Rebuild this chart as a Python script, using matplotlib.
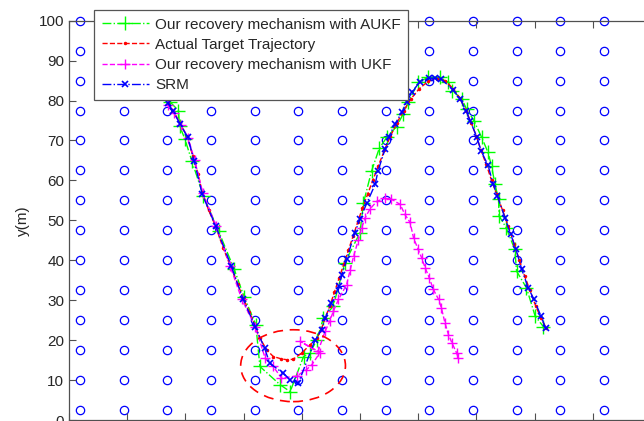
import numpy as np
import matplotlib
matplotlib.use("Agg")
import matplotlib.pyplot as plt
from matplotlib.patches import Ellipse

plt.rcParams['font.family'] = ['Liberation Sans', 'DejaVu Sans']

# anchor grid (blue circles)
grid_x = [1.9, 9.4, 16.9, 24.4, 31.9, 39.4, 46.9, 54.4, 61.9, 69.4, 76.9, 84.4, 91.9]
grid_y = [100, 92.5, 85, 77.5, 70, 62.5, 55, 47.5, 40, 32.5, 25, 17.5, 10, 2.5]

# Our recovery mechanism with AUKF
aukf_x = [17.4, 18.8, 19.0, 19.9, 21.1, 23.1, 25.7, 28.4, 30.1, 32.1, 32.8, 36.3, 38.0,
          40.3, 41.4, 42.6, 43.7, 45.4, 47.4, 50.0, 50.6, 52.0, 53.3, 54.6, 56.3, 57.4,
          58.3, 60.0, 61.7, 63.7, 65.2, 65.8, 67.5, 68.3, 69.6, 70.9, 72.0, 72.6, 73.2,
          73.8, 73.9, 75.1, 76.6, 76.9, 78.6, 80.1, 81.5]
aukf_y = [79.6, 77.5, 73.7, 70.4, 64.9, 56.1, 47.3, 37.7, 30.8, 23.9, 13.4, 8.8, 7.1,
          15.9, 16.8, 20.1, 25.5, 28.5, 39.4, 46.9, 54.4, 62.4, 68.0, 70.8, 73.5, 76.6,
          79.6, 84.6, 85.8, 85.8, 84.6, 82.5, 80.4, 77.9, 74.9, 70.8, 67.0, 63.6, 59.0,
          55.3, 51.1, 48.2, 42.7, 37.3, 33.1, 26.0, 23.4]

# Actual target trajectory
act_x = [17.0, 17.9, 19.0, 20.3, 21.3, 22.2, 22.9, 24.0, 25.2, 26.5, 27.8, 29.0, 30.0,
         31.0, 32.0, 32.8, 34.0, 35.1, 36.5, 37.4, 38.5, 40.0, 41.4, 42.6, 43.3, 44.0,
         44.8, 45.6, 46.4, 47.2, 48.0, 48.8, 49.6, 50.4, 51.3, 52.2, 53.1, 54.2, 55.2,
         56.3, 57.5, 58.8, 60.2, 61.7, 63.2, 64.6, 66.0, 67.2, 68.2, 69.1, 70.0, 70.8,
         71.7, 72.6, 73.5, 74.5, 75.5, 76.5, 77.4, 78.3, 79.2, 80.2, 81.1, 82.0]
act_y = [79.5, 77.5, 74.5, 71.0, 66.0, 61.5, 57.0, 52.5, 48.5, 43.0, 38.3, 34.0, 30.3,
         27.0, 23.5, 20.5, 17.5, 15.9, 15.3, 15.1, 15.2, 16.8, 18.8, 20.5, 22.5, 25.5,
         28.5, 32.0, 35.5, 39.0, 42.5, 46.0, 49.5, 53.0, 56.5, 60.0, 63.5, 67.5, 71.0,
         74.3, 77.5, 80.5, 83.0, 84.8, 85.5, 85.0, 83.0, 80.5, 77.5, 74.5, 71.0, 67.5,
         64.0, 60.0, 56.5, 52.5, 48.5, 44.0, 40.0, 36.0, 32.5, 28.5, 25.5, 23.0]

# Our recovery mechanism with UKF
ukf_x = [17.0, 18.0, 19.2, 20.5, 21.6, 23.0, 25.3, 27.7, 29.7, 32.0, 33.7, 35.1, 36.5,
         39.1, 40.8, 41.7, 43.1, 39.7, 42.8, 44.0, 44.8, 45.4, 46.3, 47.7, 48.3, 48.9,
         49.7, 50.3, 50.9, 51.7, 52.9, 54.3, 55.4, 56.9, 57.7, 58.6, 59.2, 60.0, 60.6,
         61.2, 61.9, 62.6, 63.5, 64.0, 64.6, 65.2, 65.8, 66.6, 66.9]
ukf_y = [79.0, 77.0, 74.0, 70.5, 65.0, 56.8, 48.5, 38.5, 30.2, 23.4, 15.5, 13.4, 10.5,
         11.0, 12.6, 13.8, 16.8, 19.7, 17.2, 22.2, 24.7, 27.2, 30.2, 33.9, 37.5, 41.0,
         45.0, 48.2, 50.7, 52.8, 54.8, 55.5, 55.3, 54.0, 51.5, 49.5, 45.6, 42.7, 40.6,
         38.1, 35.6, 32.7, 30.2, 28.0, 24.3, 21.4, 19.3, 16.8, 15.5]

# SRM
srm_x = [17.0, 17.9, 19.1, 20.4, 21.5, 22.9, 25.2, 27.9, 29.9, 32.0, 33.6, 34.5, 36.8,
         38.0, 39.4, 42.3, 43.4, 44.0, 45.1, 46.4, 46.9, 47.7, 49.1, 50.0, 51.2, 52.6,
         53.1, 54.3, 54.9, 56.0, 57.2, 58.0, 58.9, 60.3, 61.9, 62.9, 64.0, 66.0, 67.2,
         68.2, 68.9, 70.1, 70.8, 72.0, 72.9, 73.6, 74.9, 75.9, 76.8, 77.8, 78.9, 79.9,
         81.1, 81.9]
srm_y = [79.3, 77.3, 74.1, 70.8, 64.9, 56.5, 48.6, 38.5, 30.3, 23.4, 18.0, 14.2, 11.7,
         10.1, 9.2, 20.1, 22.6, 25.5, 29.3, 33.5, 36.4, 40.2, 46.9, 50.3, 54.4, 59.0,
         62.4, 67.8, 70.8, 74.1, 77.1, 79.6, 82.1, 84.7, 85.6, 85.6, 85.3, 82.7, 80.4,
         77.5, 75.0, 70.8, 67.4, 63.8, 59.0, 56.1, 50.7, 46.5, 42.7, 37.7, 33.1, 30.2,
         26.0, 23.0]

# highlighted region
circle_center = (38.5, 13.6)
circle_radius = 9.0

labels = ['Our recovery mechanism with AUKF', 'Actual Target Trajectory',
          'Our recovery mechanism with UKF', 'SRM']
xticks = [0, 10, 20, 30, 40, 50, 60, 70, 80, 90, 100]
yticks = [0, 10, 20, 30, 40, 50, 60, 70, 80, 90, 100]

W, H = 644, 421
fig = plt.figure(figsize=(W / 100, H / 100), dpi=100)
ax = fig.add_axes([69 / W, 1 / H, 582 / W, 399.3 / H])
txt = '#262626'
axc = '#505050'

gx, gy = np.meshgrid(grid_x, grid_y)
ax.plot(gx.ravel(), gy.ravel(), 'o', mfc='none', mec='#0000ff', ms=6, mew=0.9,
        linestyle='none', clip_on=False, zorder=1)

l1, = ax.plot(aukf_x, aukf_y, color='#00ff00', linestyle='-.', lw=1.0,
              marker='+', ms=10, mew=1.0, label=labels[0], zorder=2)
l2, = ax.plot(act_x, act_y, color='#ff0000', linestyle='--', lw=1.0,
              marker='.', ms=3, label=labels[1], zorder=3)
l3, = ax.plot(ukf_x, ukf_y, color='#ff00ff', linestyle='--', lw=1.0,
              marker='+', ms=7, mew=1.0, label=labels[2], zorder=4)
l4, = ax.plot(srm_x, srm_y, color='#0000ff', linestyle='-.', lw=1.0,
              marker='x', ms=5, mew=1.2, label=labels[3], zorder=5)

ell = Ellipse(circle_center, 2 * circle_radius, 2 * circle_radius, fill=False,
              edgecolor='#ff0000', linestyle=(0, (6, 4)), lw=1.2, zorder=6)
ax.add_patch(ell)

ax.set_xlim(0, 100)
ax.set_ylim(0, 100)
ax.set_xticks(xticks)
ax.set_yticks(yticks)
ax.tick_params(direction='in', length=5, width=0.8, colors=axc, labelcolor=txt,
               labelsize=11, top=True, right=True)
for s in ax.spines.values():
    s.set_color(axc)
    s.set_linewidth(0.9)
ax.set_ylabel('y(m)', fontsize=11, color=txt, labelpad=6)
ax.set_xlabel('x(m)', fontsize=11, color=txt)

leg = fig.legend(handles=[l1, l2, l3, l4], loc='upper left',
                 bbox_to_anchor=(94 / W, 1 - 10 / H), bbox_transform=fig.transFigure,
                 borderaxespad=0, fontsize=11, frameon=True, fancybox=False,
                 framealpha=1, edgecolor='#555555', handlelength=3.1,
                 handletextpad=0.4, labelspacing=0.4, borderpad=0.5)
leg.get_frame().set_linewidth(0.9)
for t in leg.get_texts():
    t.set_color(txt)

fig.savefig('out.png', dpi=100)
